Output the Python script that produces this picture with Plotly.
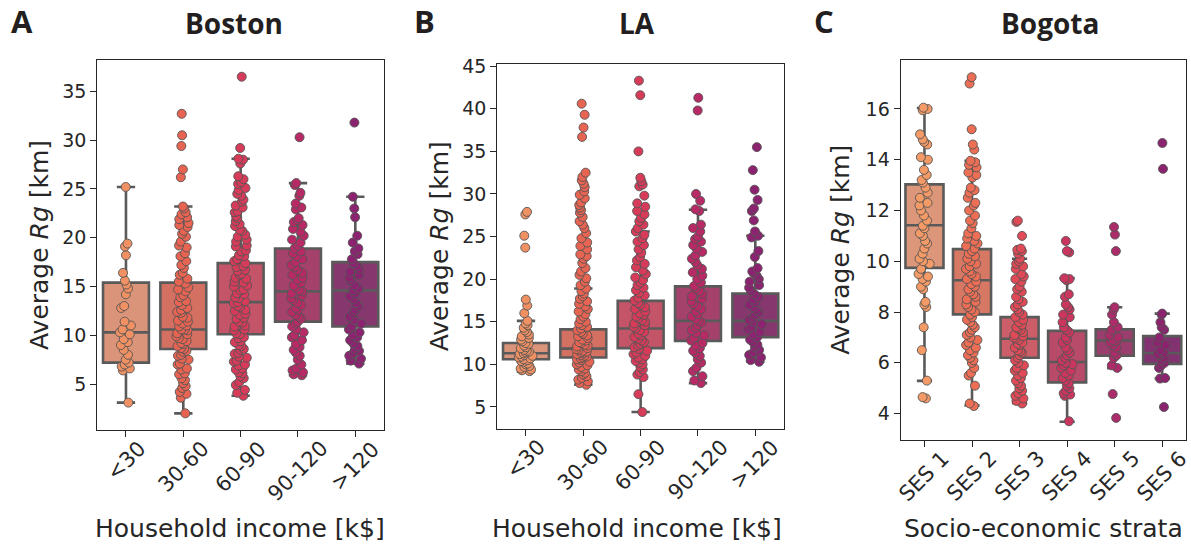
import plotly.graph_objects as go

W, H = 1191, 545

# ---------------- data ----------------
income_groups = ["<30", "30-60", "60-90", "90-120", ">120"]
ses_groups = ["SES 1", "SES 2", "SES 3", "SES 4", "SES 5", "SES 6"]

# Boston: average radius of gyration per income group
boston_lt30 = [25.2, 19.4, 19.1, 18.2, 16.4, 15.6, 15.2, 14.8, 14.2, 13.0, 12.8, 11.4, 11.0, 10.6,
               10.3, 10.1, 9.6, 9.3, 9.0, 8.5, 8.0, 7.5, 7.2, 7.0, 6.8, 6.6, 6.4, 3.1]
boston_30_60 = [32.7, 30.5, 29.4, 27.0, 26.2, 23.2, 23.0, 22.6, 22.4, 22.1, 21.9, 21.5, 21.3, 21.1,
                20.7, 20.4, 20.1, 19.6, 19.2, 19.0, 18.4, 18.1, 17.6, 17.2, 16.9, 16.4, 16.2, 15.8,
                15.5, 15.3, 14.9, 14.7, 14.5, 14.1, 13.9, 13.5, 13.4, 13.1, 12.8, 12.6, 12.4, 12.3,
                11.9, 11.8, 11.5, 11.4, 11.2, 11.0, 10.9, 10.6, 10.6, 10.5, 10.2, 10.1, 9.9, 9.7,
                9.6, 9.4, 9.2, 9.1, 8.9, 8.7, 8.6, 8.4, 8.3, 8.0, 7.9, 7.6, 7.5, 7.1, 7.0, 6.6,
                6.5, 6.1, 6.0, 5.6, 5.4, 5.1, 4.8, 4.6, 4.2, 4.0, 3.6, 2.0]
boston_60_90 = [36.5, 29.2, 28.1, 28.0, 27.6, 26.3, 26.0, 25.7, 25.5, 25.1, 24.9, 24.5, 24.3, 23.9,
                23.7, 23.3, 23.1, 22.7, 22.6, 22.2, 22.0, 21.7, 21.4, 21.2, 20.8, 20.7, 20.3, 20.1,
                19.8, 19.6, 19.2, 19.1, 18.7, 18.6, 18.2, 18.1, 17.8, 17.6, 17.4, 17.1, 17.0, 16.7,
                16.6, 16.3, 16.2, 15.9, 15.8, 15.5, 15.4, 15.1, 15.0, 14.7, 14.6, 14.3, 14.2, 13.9,
                13.8, 13.5, 13.4, 13.3, 13.0, 12.9, 12.6, 12.5, 12.2, 12.1, 11.8, 11.7, 11.4, 11.3,
                11.0, 10.9, 10.6, 10.5, 10.2, 10.1, 9.8, 9.7, 9.4, 9.3, 9.0, 8.9, 8.6, 8.5, 8.2,
                8.1, 7.8, 7.7, 7.4, 7.3, 7.0, 6.9, 6.6, 6.5, 6.2, 6.1, 5.8, 5.6, 5.2, 4.9, 4.4,
                4.1, 3.8]
boston_90_120 = [30.3, 25.6, 25.4, 24.6, 24.3, 23.5, 23.1, 22.9, 22.0, 21.8, 21.6, 21.3, 20.9, 20.6,
                 20.2, 19.8, 19.5, 19.2, 18.9, 18.6, 18.4, 18.1, 17.8, 17.5, 17.2, 17.0, 16.7, 16.4,
                 16.2, 15.9, 15.7, 15.4, 15.1, 14.9, 14.6, 14.5, 14.3, 14.1, 13.8, 13.6, 13.3, 13.1,
                 12.8, 12.6, 12.4, 12.1, 11.9, 11.7, 11.4, 11.2, 10.9, 10.6, 10.3, 10.0, 9.8, 9.5,
                 9.1, 8.8, 8.5, 8.2, 7.9, 7.5, 7.0, 6.6, 6.4, 6.2, 6.0, 5.9]
boston_gt120 = [31.8, 24.2, 23.0, 22.1, 20.2, 19.5, 18.9, 18.6, 18.3, 17.8, 17.4, 17.1, 16.8, 16.5,
                16.2, 15.9, 15.6, 15.1, 14.8, 14.6, 14.3, 14.0, 13.7, 13.3, 13.0, 12.6, 12.3, 11.9,
                11.6, 11.2, 10.9, 10.6, 10.3, 10.0, 9.8, 9.5, 9.2, 8.9, 8.6, 8.4, 8.2, 7.9, 7.6,
                7.4, 7.1]

# LA
la_lt30 = [27.9, 27.6, 25.1, 23.7, 17.6, 16.9, 16.0, 15.1, 14.8, 14.6, 14.3, 14.0, 13.8, 13.5,
           13.3, 13.1, 12.9, 12.7, 12.5, 12.4, 12.2, 12.0, 11.9, 11.7, 11.6, 11.5, 11.4, 11.3,
           11.2, 11.1, 11.0, 10.9, 10.8, 10.7, 10.6, 10.5, 10.4, 10.3, 10.1, 10.0, 9.8, 9.7,
           9.5, 9.4, 9.3, 9.2]
la_30_60 = [40.6, 39.3, 37.8, 36.7, 32.5, 32.0, 31.6, 31.2, 30.8, 30.3, 29.9, 29.5, 29.0, 28.7,
            28.4, 28.1, 27.8, 27.3, 26.8, 26.4, 26.0, 25.4, 24.8, 24.3, 23.9, 23.5, 22.9, 22.7,
            22.4, 21.9, 21.3, 20.9, 20.5, 20.1, 19.7, 19.3, 18.9, 18.6, 18.3, 18.0, 17.7, 17.4,
            17.1, 16.8, 16.5, 16.2, 15.9, 15.6, 15.3, 15.0, 14.8, 14.6, 14.4, 14.2, 14.0, 13.8,
            13.6, 13.4, 13.3, 13.1, 12.9, 12.8, 12.6, 12.5, 12.3, 12.2, 12.1, 11.9, 11.8, 11.7,
            11.6, 11.5, 11.4, 11.3, 11.2, 11.1, 11.0, 10.9, 10.8, 10.7, 10.6, 10.5, 10.3, 10.2,
            10.0, 9.9, 9.7, 9.5, 9.4, 9.2, 9.0, 8.8, 8.6, 8.4, 8.2, 8.0, 7.8, 7.6]
la_60_90 = [43.3, 41.6, 35.0, 31.9, 31.5, 31.1, 30.9, 29.8, 28.9, 28.5, 28.0, 27.6, 27.2, 26.8,
            26.4, 26.0, 25.6, 25.2, 24.8, 24.4, 24.0, 23.5, 23.1, 22.6, 22.2, 21.8, 21.4, 21.0,
            20.6, 20.2, 19.9, 19.6, 19.3, 19.0, 18.7, 18.4, 18.1, 17.8, 17.5, 17.2, 17.0, 16.7,
            16.5, 16.2, 16.0, 15.8, 15.6, 15.4, 15.2, 15.0, 14.8, 14.6, 14.4, 14.2, 14.0, 13.8,
            13.6, 13.4, 13.2, 13.0, 12.8, 12.6, 12.4, 12.2, 12.0, 11.8, 11.6, 11.4, 11.2, 11.0,
            10.8, 10.6, 10.4, 10.2, 10.0, 9.7, 9.4, 9.1, 8.8, 8.5, 6.5, 4.4]
la_90_120 = [41.3, 39.8, 30.0, 29.2, 28.2, 28.0, 26.4, 26.0, 25.6, 25.0, 24.7, 24.4, 24.0, 23.6,
             23.2, 22.8, 22.4, 22.0, 21.6, 21.2, 20.8, 20.4, 20.0, 19.6, 19.2, 18.9, 18.6, 18.3,
             18.0, 17.7, 17.4, 17.1, 16.8, 16.5, 16.2, 15.9, 15.6, 15.3, 15.1, 14.9, 14.6, 14.3,
             14.0, 13.7, 13.4, 13.1, 12.8, 12.5, 12.2, 11.9, 11.6, 11.3, 11.0, 10.6, 10.2, 9.6,
             9.2, 8.6, 8.1, 7.8]
la_gt120 = [35.5, 32.8, 30.5, 29.3, 28.3, 28.0, 26.9, 25.6, 25.1, 24.9, 23.3, 22.6, 21.3, 20.9,
            20.7, 20.4, 20.0, 19.7, 19.3, 19.0, 18.6, 18.2, 17.9, 17.6, 17.3, 17.0, 16.7, 16.4,
            16.1, 15.8, 15.5, 15.2, 15.0, 14.7, 14.4, 14.1, 13.8, 13.5, 13.2, 12.9, 12.6, 12.3,
            12.0, 11.7, 11.4, 11.1, 10.8, 10.5, 10.3]

# Bogota: per socio-economic stratum
bog_ses1 = [16.05, 16.0, 15.95, 15.0, 14.8, 14.7, 14.6, 14.1, 14.0, 13.6, 13.4, 13.2, 13.1, 12.9,
            12.7, 12.5, 12.3, 12.2, 12.0, 11.8, 11.6, 11.4, 11.3, 11.1, 11.0, 10.8, 10.7, 10.5,
            10.3, 10.1, 10.0, 9.9, 9.7, 9.5, 9.4, 9.3, 9.2, 9.0, 8.9, 8.4, 8.3, 8.2, 7.4, 6.5,
            5.3, 4.65, 4.6]
bog_ses2 = [17.25, 17.0, 15.2, 14.6, 14.4, 13.96, 13.9, 13.8, 13.7, 13.5, 13.4, 13.3, 12.9, 12.8,
            12.7, 12.5, 12.3, 12.2, 12.0, 11.8, 11.6, 11.5, 11.3, 11.1, 11.0, 10.9, 10.8, 10.7,
            10.6, 10.5, 10.4, 10.3, 10.2, 10.1, 10.0, 9.9, 9.8, 9.7, 9.6, 9.5, 9.4, 9.3, 9.2,
            9.1, 9.0, 8.9, 8.8, 8.7, 8.6, 8.5, 8.4, 8.3, 8.2, 8.1, 8.0, 7.9, 7.8, 7.7, 7.6, 7.5,
            7.4, 7.3, 7.2, 7.1, 7.0, 6.9, 6.8, 6.7, 6.6, 6.5, 6.4, 6.3, 6.2, 6.1, 6.0, 5.8, 5.6,
            5.5, 5.1, 4.4, 4.3]
bog_ses3 = [11.6, 11.55, 11.0, 10.5, 10.45, 10.4, 10.3, 10.1, 10.0, 9.9, 9.8, 9.7, 9.5, 9.4, 9.3,
            9.2, 9.0, 8.9, 8.8, 8.6, 8.5, 8.4, 8.3, 8.2, 8.1, 8.0, 7.9, 7.8, 7.7, 7.6, 7.5, 7.4,
            7.35, 7.3, 7.2, 7.1, 7.05, 7.0, 6.95, 6.9, 6.8, 6.75, 6.7, 6.6, 6.5, 6.45, 6.4, 6.3,
            6.2, 6.1, 6.0, 5.9, 5.8, 5.7, 5.6, 5.5, 5.4, 5.3, 5.2, 5.1, 5.0, 4.9, 4.8, 4.7, 4.6,
            4.5, 4.4]
bog_ses4 = [10.8, 10.4, 10.35, 9.33, 9.3, 9.25, 8.7, 8.6, 8.3, 8.2, 8.1, 7.9, 7.8, 7.6, 7.4, 7.3,
            7.2, 7.0, 6.9, 6.8, 6.6, 6.5, 6.4, 6.3, 6.2, 6.1, 6.0, 5.95, 5.9, 5.8, 5.7, 5.6, 5.5,
            5.4, 5.3, 5.2, 5.1, 5.0, 4.9, 4.8, 4.75, 4.7, 3.7]
bog_ses5 = [11.35, 11.05, 10.4, 8.19, 8.1, 7.9, 7.6, 7.4, 7.3, 7.1, 7.0, 6.9, 6.85, 6.8, 6.7,
            6.6, 6.4, 6.3, 6.2, 5.9, 5.8, 4.77, 3.83]
bog_ses6 = [14.66, 13.64, 7.94, 7.9, 7.6, 7.4, 7.3, 7.0, 6.8, 6.7, 6.5, 6.4, 6.35, 6.3, 6.2, 6.1,
            6.0, 5.9, 5.8, 5.4, 5.38, 4.26]

# box statistics (quartiles and whisker ends)
boston_q1 = [7.2, 8.6, 10.1, 11.4, 10.9]
boston_median = [10.3, 10.6, 13.4, 14.5, 14.6]
boston_q3 = [15.4, 15.4, 17.4, 18.9, 17.5]
boston_low = [3.1, 2.0, 3.8, 5.9, 7.1]
boston_high = [25.2, 23.2, 28.1, 25.6, 24.2]

la_q1 = [10.6, 10.8, 11.9, 12.75, 13.2]
la_median = [11.3, 11.85, 14.2, 15.1, 15.1]
la_q3 = [12.5, 14.1, 17.45, 19.15, 18.3]
la_low = [9.15, 7.6, 4.4, 7.8, 10.3]
la_high = [15.1, 18.9, 25.6, 28.15, 25.1]

bog_q1 = [9.74, 7.91, 6.2, 5.23, 6.28, 5.96]
bog_median = [11.42, 9.25, 6.95, 6.03, 6.88, 6.39]
bog_q3 = [13.03, 10.48, 7.8, 7.26, 7.32, 7.05]
bog_low = [5.29, 4.32, 4.41, 3.68, 5.79, 5.38]
bog_high = [16.04, 13.96, 10.1, 9.33, 8.19, 7.94]

# ---------------- styling ----------------
point_colors5 = ["#f09164", "#e86452", "#d63c5a", "#b82a66", "#8c2370"]
box_colors5 = ["#da947a", "#d47062", "#c45468", "#a4426c", "#86386e"]
point_colors6 = ["#f39a66", "#eb6e55", "#e04a57", "#cb365f", "#ac2c69", "#8b236e"]
box_colors6 = ["#dc977b", "#d67864", "#cc5e69", "#b84b69", "#9a3e6e", "#823270"]

BOX_LINE = "#5a5a5a"
AX = "#262626"
TICK_FONT = dict(family="DejaVu Sans", size=19, color=AX)
XTICK_FONT = dict(family="DejaVu Sans", size=21, color=AX)
LABEL_FONT = dict(family="DejaVu Sans", size=25, color=AX)
TITLE_FONT = dict(family="Open Sans", size=28, color="#231f20", weight="bold")
LETTER_FONT = dict(family="Open Sans", size=31, color="#231f20", weight="bold")


def px_x(v):
    return v / W


def px_y(v):
    return 1 - v / H


panels = [
    dict(cats=income_groups,
         values=[boston_lt30, boston_30_60, boston_60_90, boston_90_120, boston_gt120],
         q1=boston_q1, med=boston_median, q3=boston_q3, lo=boston_low, hi=boston_high,
         pcol=point_colors5, bcol=box_colors5,
         dom_x=(97.3, 384.0), dom_y=(52.0, 428.0), yr=(0.3, 38.2), dtick=5,
         title="Boston", title_x=234, letter="A", letter_x=22,
         ylab_x=39, xlab="Household income [k$]", xlab_x=240),
    dict(cats=income_groups,
         values=[la_lt30, la_30_60, la_60_90, la_90_120, la_gt120],
         q1=la_q1, med=la_median, q3=la_q3, lo=la_low, hi=la_high,
         pcol=point_colors5, bcol=box_colors5,
         dom_x=(497.3, 784.0), dom_y=(56.0, 426.7), yr=(2.45, 45.25), dtick=5,
         title="LA", title_x=637, letter="B", letter_x=424,
         ylab_x=439, xlab="Household income [k$]", xlab_x=637),
    dict(cats=ses_groups,
         values=[bog_ses1, bog_ses2, bog_ses3, bog_ses4, bog_ses5, bog_ses6],
         q1=bog_q1, med=bog_median, q3=bog_q3, lo=bog_low, hi=bog_high,
         pcol=point_colors6, bcol=box_colors6,
         dom_x=(900.7, 1186.0), dom_y=(51.8, 438.0), yr=(2.97, 17.93), dtick=2,
         title="Bogota", title_x=1050, letter="C", letter_x=824,
         ylab_x=841, xlab="Socio-economic strata", xlab_x=1043),
]

fig = go.Figure()
layout = dict(width=W, height=H, margin=dict(l=0, r=0, t=0, b=0),
              paper_bgcolor="white", plot_bgcolor="white",
              showlegend=False, boxmode="overlay")
annotations = []

for i, p in enumerate(panels):
    suffix = "" if i == 0 else str(i + 1)
    xa, ya = "x" + suffix, "y" + suffix

    # boxes from the summary statistics
    for j, cat in enumerate(p["cats"]):
        fig.add_trace(go.Box(
            x=[cat], q1=[p["q1"][j]], median=[p["med"][j]], q3=[p["q3"][j]],
            lowerfence=[p["lo"][j]], upperfence=[p["hi"][j]],
            boxpoints=False, width=0.8, whiskerwidth=0.4,
            fillcolor=p["bcol"][j], line=dict(color=BOX_LINE, width=2.6),
            xaxis=xa, yaxis=ya, hoverinfo="skip"))

    # individual observations, jittered over each box
    for j, cat in enumerate(p["cats"]):
        vals = p["values"][j]
        fig.add_trace(go.Box(
            x=[cat] * len(vals), y=vals, boxpoints="all", jitter=0.32, pointpos=0,
            width=0.8, fillcolor="rgba(0,0,0,0)",
            line=dict(color="rgba(0,0,0,0)", width=0),
            marker=dict(color=p["pcol"][j], size=9, opacity=1,
                        line=dict(color="#555555", width=0.9)),
            xaxis=xa, yaxis=ya, hoverinfo="skip"))

    x0, x1 = p["dom_x"]
    y0, y1 = p["dom_y"]
    layout["xaxis" + suffix] = dict(
        domain=[px_x(x0), px_x(x1)], anchor=ya, type="category",
        categoryorder="array", categoryarray=p["cats"],
        range=[-0.5, len(p["cats"]) - 0.5],
        showline=True, linecolor=AX, linewidth=1.3, mirror=True,
        ticks="outside", ticklen=6, tickwidth=1.3, tickcolor=AX,
        showticklabels=False, showgrid=False, zeroline=False)
    layout["yaxis" + suffix] = dict(
        domain=[px_y(y1), px_y(y0)], anchor=xa,
        range=list(p["yr"]), dtick=p["dtick"], tick0=0,
        showline=True, linecolor=AX, linewidth=1.3, mirror=True,
        ticks="outside", ticklen=6, tickwidth=1.3, tickcolor=AX,
        tickfont=TICK_FONT, showgrid=False, zeroline=False)

    # rotated category labels
    for cat in p["cats"]:
        annotations.append(dict(
            x=cat, y=px_y(y1 + 4), xref=xa, yref="paper",
            text=cat, textangle=-45, showarrow=False,
            xanchor="center", yanchor="top", font=XTICK_FONT))

    # axis titles, panel title and letter
    annotations.append(dict(
        x=px_x(p["ylab_x"]), y=px_y((y0 + y1) / 2), xref="paper", yref="paper",
        text="Average <i>Rg</i> [km]", textangle=-90, showarrow=False,
        xanchor="center", yanchor="middle", font=LABEL_FONT))
    annotations.append(dict(
        x=px_x(p["xlab_x"]), y=px_y(528), xref="paper", yref="paper",
        text=p["xlab"], showarrow=False,
        xanchor="center", yanchor="middle", font=LABEL_FONT))
    annotations.append(dict(
        x=px_x(p["title_x"]), y=px_y(14), xref="paper", yref="paper",
        text=p["title"], showarrow=False,
        xanchor="center", yanchor="middle", font=TITLE_FONT))
    annotations.append(dict(
        x=px_x(p["letter_x"]), y=px_y(12), xref="paper", yref="paper",
        text=p["letter"], showarrow=False,
        xanchor="center", yanchor="middle", font=LETTER_FONT))

layout["annotations"] = annotations
fig.update_layout(**layout)
fig.write_html("out.html")
